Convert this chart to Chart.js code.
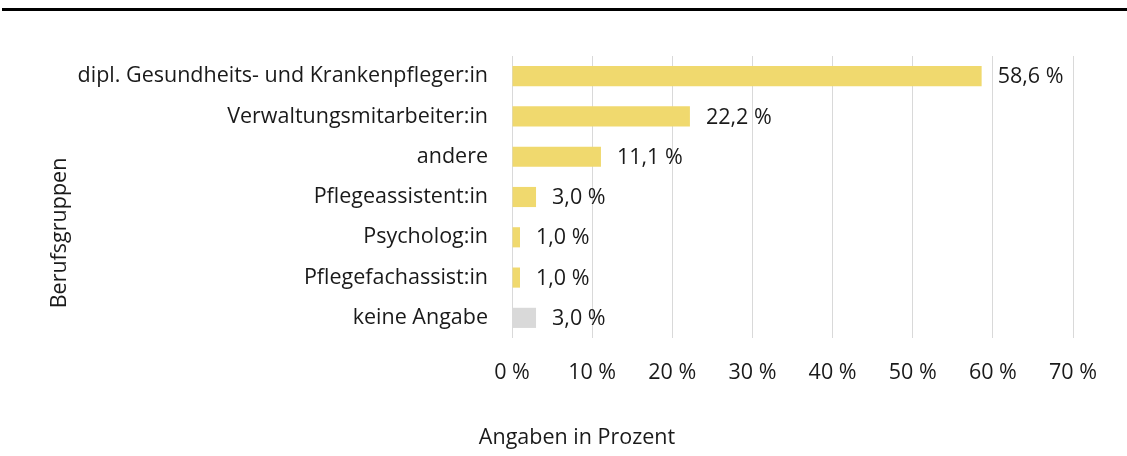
<!DOCTYPE html>
<html>
<head>
<meta charset="utf-8">
<script src="https://cdn.jsdelivr.net/npm/chart.js@4"></script>
<style>
  html, body { margin: 0; padding: 0; background: #fff; }
  #wrap { width: 1127px; height: 456px; position: relative; }
</style>
</head>
<body>
<div id="wrap"><canvas id="berufChart"></canvas></div>
<script>
const categories = [
    "dipl. Gesundheits- und Krankenpfleger:in",
    "Verwaltungsmitarbeiter:in",
    "andere",
    "Pflegeassistent:in",
    "Psycholog:in",
    "Pflegefachassist:in",
    "keine Angabe"
];
const values = [58.6, 22.2, 11.1, 3.0, 1.0, 1.0, 3.0];
const barColors = ["#F0D96E", "#F0D96E", "#F0D96E", "#F0D96E", "#F0D96E", "#F0D96E", "#D9D9D9"];
const xTicks = [0, 10, 20, 30, 40, 50, 60, 70];

const FONT = "'Open Sans', 'Noto Sans', sans-serif";
const FSIZE = 21.5;
const TEXT = "#1a1a1a";

function fmt(v) {
    return v.toFixed(1).replace(".", ",") + " %";
}

// top rule, axis titles and value labels
const extras = {
    id: "extras",
    afterDraw(chart) {
        const ctx = chart.ctx;
        ctx.save();
        ctx.fillStyle = "#000";
        ctx.fillRect(2, 8, 1125, 3);

        ctx.font = FSIZE + "px " + FONT;
        ctx.fillStyle = TEXT;
        ctx.textBaseline = "middle";
        ctx.textAlign = "left";
        const meta = chart.getDatasetMeta(0);
        meta.data.forEach((bar, i) => {
            ctx.fillText(fmt(values[i]), bar.x + 16, bar.y + 1);
        });

        ctx.textAlign = "center";
        ctx.fillText("Angaben in Prozent", 577, 438);

        ctx.translate(60, 233);
        ctx.rotate(-Math.PI / 2);
        ctx.fillText("Berufsgruppen", 0, 0);
        ctx.restore();
    }
};

const ctx = document.getElementById("berufChart").getContext("2d");
new Chart(ctx, {
    type: "bar",
    data: {
        labels: categories,
        datasets: [{
            data: values,
            backgroundColor: barColors,
            borderWidth: 0,
            barPercentage: 0.5,
            categoryPercentage: 1
        }]
    },
    options: {
        indexAxis: "y",
        responsive: true,
        maintainAspectRatio: false,
        animation: false,
        layout: { padding: { top: 56, right: 54, bottom: 0, left: 0 } },
        plugins: {
            legend: { display: false },
            tooltip: { enabled: false }
        },
        scales: {
            x: {
                min: 0,
                max: 70,
                afterBuildTicks: s => { s.ticks = xTicks.map(v => ({ value: v })); },
                afterFit: s => { s.height = 456 - 338; },
                grid: { color: "#d9d9d9", lineWidth: 1, drawTicks: false },
                border: { display: false },
                ticks: {
                    padding: 22,
                    color: TEXT,
                    font: { family: FONT, size: FSIZE },
                    callback: v => v + " %"
                }
            },
            y: {
                afterFit: s => { s.width = 512; },
                grid: { display: false, drawTicks: false },
                border: { display: false },
                ticks: {
                    padding: 24,
                    color: TEXT,
                    font: { family: FONT, size: FSIZE }
                }
            }
        }
    },
    plugins: [extras]
});
</script>
</body>
</html>
